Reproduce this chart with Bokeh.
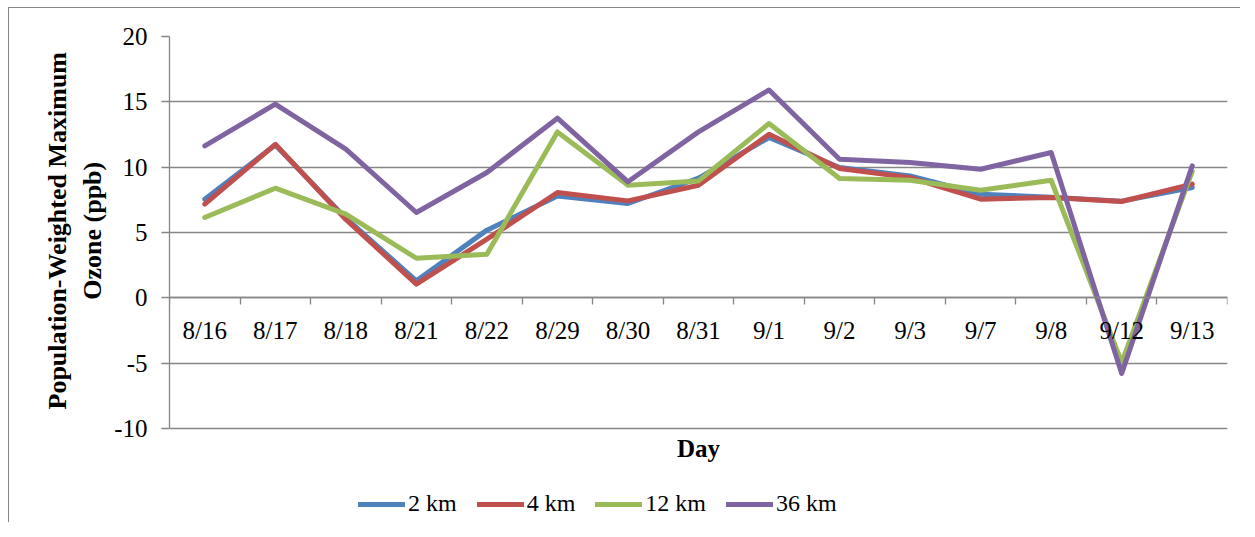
import numpy as np
from bokeh.plotting import figure
from bokeh.models import Range1d, LinearAxis, FixedTicker, Legend, LegendItem
from bokeh.embed import file_html
from bokeh.resources import INLINE

# ---- data ----
categories = ["8/16", "8/17", "8/18", "8/21", "8/22", "8/29", "8/30", "8/31",
              "9/1", "9/2", "9/3", "9/7", "9/8", "9/12", "9/13"]
series_names = ["2 km", "4 km", "12 km", "36 km"]
km2 = [7.55, 11.7, 6.1, 1.3, 5.18, 7.8, 7.22, 9.16, 12.27, 9.97, 9.33, 7.93, 7.7, 7.4, 8.44]
km4 = [7.17, 11.75, 6.0, 1.05, 4.49, 8.06, 7.42, 8.62, 12.52, 9.9, 9.2, 7.55, 7.68, 7.37, 8.7]
km12 = [6.15, 8.39, 6.4, 3.03, 3.34, 12.7, 8.62, 8.95, 13.34, 9.13, 9.0, 8.24, 9.0, -4.95, 9.67]
km36 = [11.63, 14.82, 11.38, 6.53, 9.59, 13.75, 8.88, 12.7, 15.91, 10.61, 10.35, 9.84, 11.12, -5.79, 10.1]
y_ticks = [-10, -5, 0, 5, 10, 15, 20]
y_tick_labels = ["-10", "-5", "0", "5", "10", "15", "20"]
y_label_lines = ["Population-Weighted Maximum", "Ozone (ppb)"]
x_label = "Day"

colors = ["#4F81BD", "#C0504D", "#9BBB59", "#8064A2"]
GRAY = "#868686"
FONT = "Liberation Serif"

# ---- layout (pixels) ----
W, H = 1232, 515
B_LEFT, B_RIGHT, B_TOP, B_BOTTOM = 160, 14, 28, 1
AXIS_PX = 392          # pixel height of the value axis (-10 .. 20)
frame_h = H - B_TOP - B_BOTTOM
y_lo, y_hi = y_ticks[0], y_ticks[-1]
# extend the frame below the value axis so the legend area is inside it
y_start = y_hi - (y_hi - y_lo) * frame_h / AXIS_PX
# the axis title is centred on the whole frame; pad its start (bottom end)
# with non-breaking spaces so it sits centred on the value axis instead
PAD = "\u00a0" * 15
y_label = "\n".join(PAD + s for s in y_label_lines)

n = len(categories)
x = np.arange(n) + 0.5

p = figure(width=W, height=H, output_backend="svg", toolbar_location=None,
           x_range=Range1d(0, n), y_range=Range1d(y_start, y_hi),
           x_axis_location=None,
           min_border_left=B_LEFT, min_border_right=B_RIGHT,
           min_border_top=B_TOP, min_border_bottom=B_BOTTOM)
p.outline_line_color = None
p.background_fill_color = "white"
p.border_fill_color = "white"
p.styles = {"margin-left": "9px", "margin-top": "8px",
            "box-shadow": "-1px -1px 0px 0px " + GRAY}

p.xgrid.visible = False
p.ygrid.ticker = FixedTicker(ticks=y_ticks)
p.ygrid.grid_line_color = GRAY
p.ygrid.grid_line_width = 1.3

ya = p.yaxis[0]
ya.ticker = FixedTicker(ticks=y_ticks)
ya.bounds = (y_lo, y_hi)
ya.major_label_overrides = {t: s for t, s in zip(y_ticks, y_tick_labels)}
ya.axis_line_color = GRAY
ya.axis_line_width = 1.3
ya.major_tick_line_color = GRAY
ya.major_tick_line_width = 1.3
ya.major_tick_in = 0
ya.major_tick_out = 8
ya.minor_tick_line_color = None
ya.major_label_text_font = FONT
ya.major_label_text_font_size = "25px"
ya.major_label_text_color = "black"
ya.major_label_standoff = 14
ya.axis_label = y_label
ya.axis_label_text_font = FONT
ya.axis_label_text_font_style = "bold"
ya.axis_label_text_font_size = "26px"
ya.axis_label_text_color = "black"
ya.axis_label_standoff = 4

# "Day" label, placed under the bottom of the value axis
day_axis = LinearAxis(fixed_location=y_lo, ticker=FixedTicker(ticks=[]), axis_label=x_label,
                      axis_line_color=None, major_tick_line_color=None,
                      major_tick_in=0, major_tick_out=0,
                      minor_tick_line_color=None, major_label_text_color=None,
                      axis_label_text_font=FONT, axis_label_text_font_style="bold",
                      axis_label_text_font_size="25px", axis_label_text_color="black",
                      axis_label_standoff=6)
p.add_layout(day_axis, "below")

# category boundary ticks at y = 0
tick_axis = LinearAxis(fixed_location=0, ticker=FixedTicker(ticks=list(range(n + 1))),
                       axis_line_color=GRAY, axis_line_width=1.3,
                       major_tick_line_color=GRAY, major_tick_line_width=1.3,
                       major_tick_in=0, major_tick_out=7,
                       minor_tick_line_color=None, major_label_text_color=None)
p.add_layout(tick_axis, "below")

# category labels at y = 0
label_axis = LinearAxis(fixed_location=0, ticker=FixedTicker(ticks=[float(v) for v in x]),
                        major_label_overrides={float(v): c for v, c in zip(x, categories)},
                        axis_line_color=None, major_tick_line_color=None,
                        major_tick_in=0, major_tick_out=0,
                        minor_tick_line_color=None,
                        major_label_text_font=FONT, major_label_text_font_size="25px",
                        major_label_text_color="black", major_label_standoff=19)
p.add_layout(label_axis, "below")

items = []
for name, ys, c in zip(series_names, [km2, km4, km12, km36], colors):
    r = p.line(x, ys, line_color=c, line_width=5, line_join="round", line_cap="round")
    items.append(LegendItem(label=name, renderers=[r]))

legend = Legend(items=items, orientation="horizontal", location=(189, 5),
                glyph_width=47, glyph_height=24, label_standoff=3, spacing=20,
                padding=0, margin=0, border_line_color=None, background_fill_alpha=0,
                label_text_font=FONT, label_text_font_size="24px", label_text_color="black",
                label_height=24)
p.add_layout(legend, "center")

open("out.html", "w").write(file_html(p, INLINE))
